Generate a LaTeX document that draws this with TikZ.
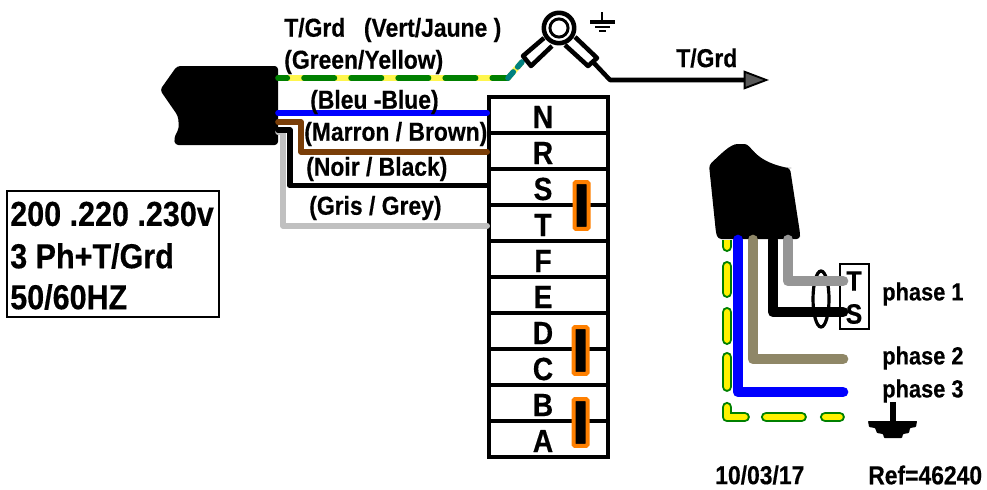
\documentclass[tikz,border=0pt]{standalone}
\usepackage{fontspec}
\setmainfont[FakeStretch=0.88,BoldFeatures={FakeBold=0.4}]{Liberation Sans}
\usetikzlibrary{calc,arrows.meta,shapes.geometric}
\definecolor{wirebrown}{RGB}{122,62,8}
\definecolor{wiregrey}{RGB}{192,192,192}
\definecolor{wiredark}{RGB}{150,150,150}
\definecolor{wiretaupe}{RGB}{143,135,103}
\definecolor{wiregreen}{RGB}{0,128,0}
\definecolor{wireteal}{RGB}{0,128,128}
\definecolor{linkorange}{RGB}{255,128,0}
\tikzset{
    txt/.style={font=\bfseries\fontsize{19.5}{22}\selectfont, inner sep=0pt, anchor=west},
    phasetxt/.style={font=\bfseries\fontsize{18.6}{22}\selectfont, inner sep=0pt, anchor=west},
    bigtxt/.style={font=\bfseries\fontsize{26}{30}\selectfont, inner sep=0pt, anchor=west},
    termrow/.style={draw, line width=3pt, minimum width=89pt, minimum height=27pt, inner sep=0pt},
    termtxt/.style={font=\bfseries\fontsize{24}{28}\selectfont, inner sep=0pt},
    tstxt/.style={font=\bfseries\fontsize{21}{24}\selectfont, inner sep=0pt},
    link/.style={draw=linkorange, fill=black, line width=3pt, rounded corners=1pt, minimum width=10.5pt, minimum height=35pt, inner sep=0pt},
    wire/.style={line width=4.2pt, line join=round, line cap=round},
    fatwire/.style={line width=8pt, line join=round, line cap=round},
    earthdash/.style={line cap=round, line join=round, dash pattern=on 9.5pt off 14.7pt on 19.8pt off 14.7pt on 20.55pt off 13.2pt on 22pt off 15.45pt on 20.55pt off 16.2pt on 26.55pt off 17.7pt on 10.8pt off 10pt}
}
\begin{document}
\begin{tikzpicture}[x=0.75pt,y=-0.75pt]
    \useasboundingbox (0,0) rectangle (987,489);

    % Terminal block
    \foreach \name/\ypos in {N/115,R/151,S/187,T/223,F/259,E/295,D/331,C/367,B/403,A/439}{
        \node[termrow] (row\name) at (548.5,\ypos) {};
        \node[termtxt] (letter\name) at (543,\ypos+2) {\name};
    }
    \node[link] (linkST) at (581.5,205.5) {};
    \node[link] (linkDC) at (580.5,350.5) {};
    \node[link] (linkBA) at (580.5,422.5) {};

    % Left plug
    \fill[rounded corners=2.5pt] (160,90) -- (177,66) -- (278,66) -- (278,145) -- (175,145)
        -- (174,138) -- (179,128) -- (178,116) -- cycle;
    \coordinate (plugE) at (278,78);
    \coordinate (plugB) at (278,113);
    \coordinate (plugM) at (278,122);
    \coordinate (plugK) at (278,130);
    \coordinate (plugG) at (278,132);

    % Wires to the block
    \draw[wire, wiregrey] (plugG) -- (283,132) |- ([yshift=-2.2pt]rowT.west);
    \draw[wire, black] (plugK) -- (290,130) |- ([yshift=1pt]rowS.west);
    \draw[wire, wirebrown] (plugM) -- (301,122) |- ([yshift=-0.7pt]rowR.west);
    \draw[wire, blue] (plugB) -- ([yshift=1.5pt]rowN.west);

    % Earth wire and lug
    \coordinate (bend) at (508,78);
    \coordinate (lugL) at (522,62);
    \draw[wire, yellow!70!white, line cap=butt] (plugE) -- (bend) -- (lugL);
    \draw[wire, wiregreen, line cap=round, dash pattern=on 22.8pt off 12.5pt, dash phase=15.8pt] (plugE) -- (bend);
    \draw[wire, wireteal, dash pattern=on 6pt off 5pt] (bend) -- (lugL);
    \coordinate (lug) at (559,28);
    \draw[line width=3.4pt, line join=round] (544,38) -- (523,56) -- (531,66) -- (552,46);
    \draw[line width=3.4pt, line join=round] (575,37) -- (597,58) -- (588,66) -- (565,45);
    \draw[line width=3.4pt, fill=white] (lug) circle (11.4pt);
    \draw[line width=2.2pt] (lug) circle (6.8pt);

    % Earth symbol
    \coordinate (gnd) at (602,22);
    \draw[line width=2.2pt] (602,12) -- (gnd);
    \draw[line width=2.5pt] (590,22) -- (615,22);
    \draw[line width=2.2pt] (595,27) -- (610,27);
    \draw[line width=2.2pt] (599,31) -- (606,31);

    % Outgoing earth
    \coordinate (tgrdEnd) at (769,80);
    \draw[line width=3.4pt, line join=round, -{Triangle[length=19pt, width=14pt, fill=black!65, line width=1.4pt]}]
        (593,62) -- (610,80) -- (tgrdEnd);

    % Left texts
    \node[txt] (tgrdA) at (284,30) {T/Grd\hspace{14pt}(Vert/Jaune )};
    \node[txt] (tgrdB) at (284,62) {(Green/Yellow)};
    \node[txt] (tgrdC) at (676,58) {T/Grd};
    \node[txt] (blue) at (310,102) {(Bleu -Blue)};
    \node[txt] (brown) at (304,134) {(Marron / Brown)};
    \node[txt] (black) at (306,169) {(Noir / Black)};
    \node[txt] (grey) at (309,208) {(Gris / Grey)};

    % Supply box
    \node[draw, line width=1.5pt, minimum width=159pt, minimum height=94pt, inner sep=0pt] (supply) at (112.5,254) {};
    \node[bigtxt] (supplyA) at (10,214) {200 .220 .230v};
    \node[bigtxt] (supplyB) at (10,256) {3 Ph+T/Grd};
    \node[bigtxt] (supplyC) at (10,297) {50/60HZ};

    % Right plug
    \fill[rounded corners=2.5pt] (709,165) .. controls (720,155) and (730,144) .. (741,144)
        .. controls (752,144) and (752,160) .. (788,168) -- (790,168) -- (800,233) -- (800,239)
        -- (718,239) -- (716,233) -- cycle;

    % TS box
    \node[draw, line width=1.5pt, fill=white, minimum width=22pt, minimum height=49pt, inner sep=0pt] (tsbox) at (854.5,296.5) {};
    \node[tstxt] (tsT) at (854,281) {T};
    \node[tstxt] (tsS) at (854,314) {S};

    % Right wires
    \coordinate (endP) at (843,281);
    \coordinate (endK) at (843,312);
    \coordinate (endQ) at (843,359);
    \coordinate (endB) at (843,392);
    \coordinate (endE) at (843,417);
    \draw[line width=2.4pt] (821,299) ellipse (6pt and 21pt);
    \draw[fatwire, wiredark] (788,240) |- (endP);
    \draw[fatwire, black] (773,240) |- (endK);
    \draw[fatwire, wiretaupe] (753,240) |- (endQ);
    \draw[fatwire, blue] (738,240) |- (endB);
    \begin{scope}
        \clip (700,240) rectangle (860,430);
        \draw[line width=8pt, wiregreen, earthdash] (727,234) |- (endE);
        \draw[line width=4.8pt, yellow, earthdash] (727,234) |- (endE);
    \end{scope}

    % Right earth
    \coordinate (earth) at (893,423);
    \draw[line width=4pt] (893,402) -- (earth);
    \fill[rounded corners=0.5pt] (868,421) -- (917,421) -- (916,427) -- (910,428) -- (909,433) -- (903,434) -- (902,438) -- (884,438) -- (883,434) -- (877,433) -- (875,428) -- (869,427) -- cycle;

    % Right texts
    \node[phasetxt] (ph1) at (882,294) {phase 1};
    \node[phasetxt] (ph2) at (882,358) {phase 2};
    \node[phasetxt] (ph3) at (882,391) {phase 3};
    \node[txt] (date) at (715,475) {10/03/17};
    \node[txt] (ref) at (868,475) {Ref=46240};
\end{tikzpicture}
\end{document}
